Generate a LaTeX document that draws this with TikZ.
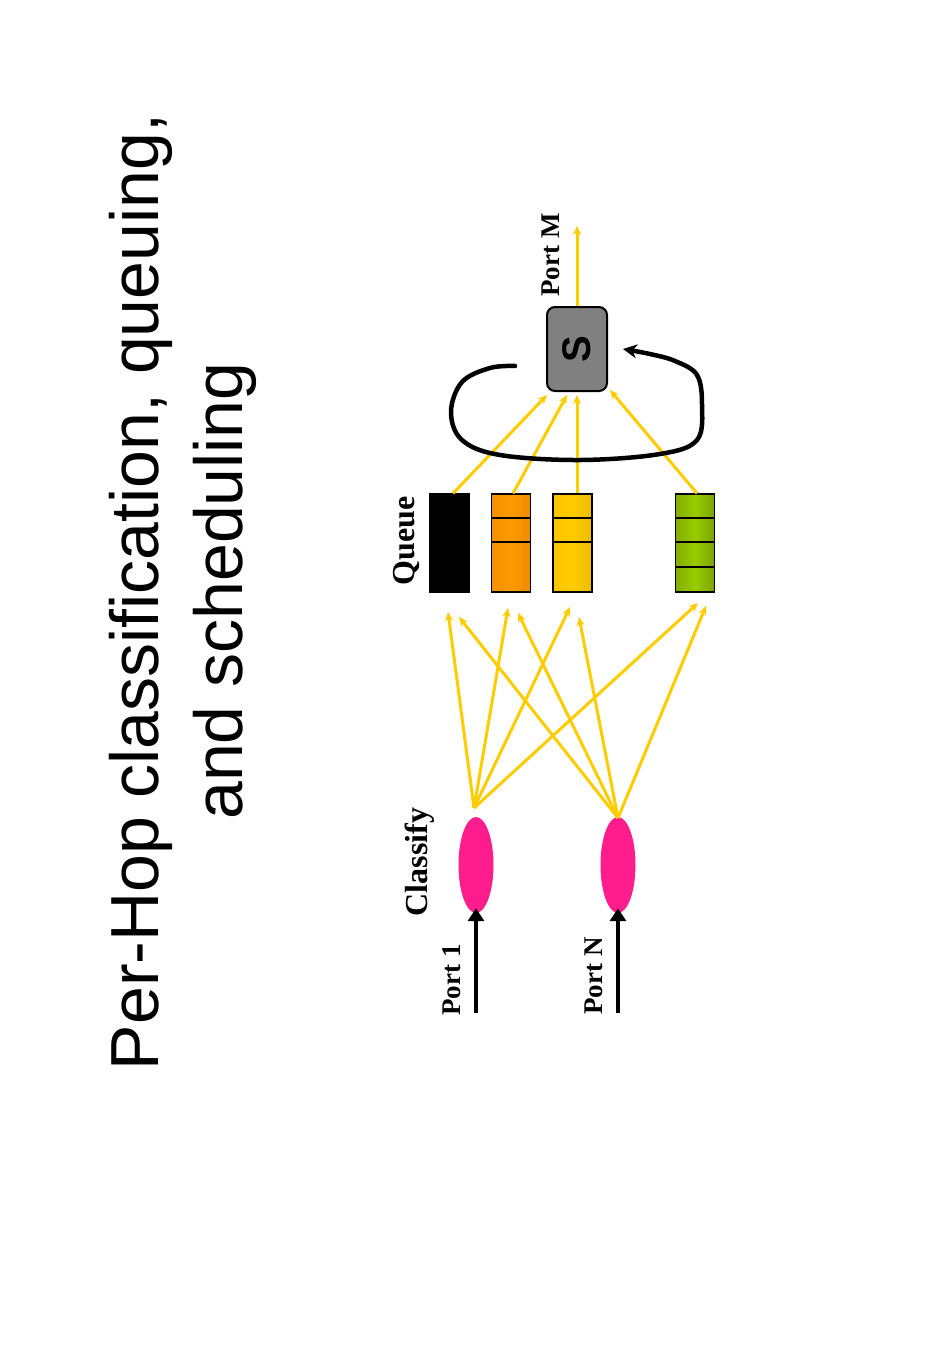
\documentclass[tikz,border=0pt]{standalone}
\usepackage{fontspec}
\setmainfont{Liberation Serif}
\newfontfamily\titlefont{Liberation Sans}
\usetikzlibrary{arrows.meta,shapes.geometric}
\definecolor{qyellow}{HTML}{FFCC00}
\definecolor{qorange}{HTML}{FF9900}
\definecolor{qgreen}{HTML}{99CC00}
\definecolor{pinkc}{HTML}{FF1C8C}
\definecolor{sgray}{HTML}{808080}
\tikzset{
  titletext/.style={rotate=90,anchor=base,font=\titlefont\fontsize{68}{80}\selectfont},
  lbl/.style={rotate=90,anchor=base,font=\bfseries\fontsize{27}{30}\selectfont},
  biglbl/.style={rotate=90,anchor=base,font=\bfseries\fontsize{32}{36}\selectfont},
  queuebox/.style={draw=black,line width=1.2pt,minimum width=39pt,minimum height=98pt,inner sep=0pt},
  classnode/.style={ellipse,fill=pinkc,minimum width=35pt,minimum height=96pt,inner sep=0pt},
  flow/.style={draw=qyellow,line width=3pt,-{Stealth[length=9pt,width=8pt]}},
  inarrow/.style={draw=black,line width=4.5pt,-{Triangle[length=13pt,width=16pt]}},
}
\begin{document}
\begin{tikzpicture}[x=1pt,y=-1pt]
\useasboundingbox (0,0) rectangle (952,1347);
\fill[white] (0,0) rectangle (952,1347);

% title
\node[titletext] (t1) at (158,592) {Per-Hop classification, queuing,};
\node[titletext] (t2) at (242,591) {and scheduling};

% labels
\node[lbl] (lpm) at (559,255) {Port M};
\node[biglbl] (lq) at (414,541) {Queue};
\node[biglbl] (lc) at (427,862) {Classify};
\node[lbl] (lp1) at (460,980) {Port 1};
\node[lbl] (lpn) at (602,976) {Port N};

% scheduler
\node[draw=black,line width=2pt,fill=sgray,rounded corners=8pt,minimum width=60pt,minimum height=84pt,inner sep=0pt] (S) at (577,349) {};
\node[rotate=90,font=\titlefont\bfseries\fontsize{40}{44}\selectfont] (Slbl) at (S.center) {S};

% queues
\node[queuebox,fill=black] (q1) at (449.5,543) {};
\node[queuebox,left color=qorange!95!black,right color=qorange!92!black,middle color=qorange] (q2) at (511,543) {};
\node[queuebox,left color=qyellow!90!orange,right color=qyellow!92!black,middle color=qyellow] (q3) at (572.5,543) {};
\node[queuebox,left color=qgreen!85!black,right color=qgreen!80!black,middle color=qgreen] (q4) at (695,543) {};
\draw[line width=1.2pt] (q2.west |- 0,518) -- (q2.east |- 0,518) (q2.west |- 0,542) -- (q2.east |- 0,542);
\draw[line width=1.2pt] (q3.west |- 0,518) -- (q3.east |- 0,518) (q3.west |- 0,542) -- (q3.east |- 0,542);
\draw[line width=1.2pt] (q4.west |- 0,518) -- (q4.east |- 0,518) (q4.west |- 0,542) -- (q4.east |- 0,542) (q4.west |- 0,567) -- (q4.east |- 0,567);

% classifiers
\node[classnode] (c1) at (476,865) {};
\node[classnode] (c2) at (618,865) {};

% input ports
\coordinate (p1) at (476,1013);
\coordinate (pn) at (618,1013);
\draw[inarrow] (p1) -- ([yshift=5pt]c1.south);
\draw[inarrow] (pn) -- ([yshift=5pt]c2.south);

% classifier to queue flows
\coordinate (c1o) at (474,808);
\coordinate (c2o) at (618,818);
\coordinate (q1a) at (448,612);
\coordinate (q2a) at (508,608);
\coordinate (q3a) at (570,607);
\coordinate (q4a) at (698,603);
\coordinate (q1b) at (459,617);
\coordinate (q2b) at (518,613);
\coordinate (q3b) at (579,617);
\coordinate (q4b) at (706,606);
\foreach \t in {q1a,q2a,q3a,q4a} \draw[flow] (c1o) -- (\t);
\foreach \t in {q1b,q2b,q3b,q4b} \draw[flow] (c2o) -- (\t);

% queue to scheduler flows
\coordinate (s1) at (547,395);
\coordinate (s2) at (567,395);
\coordinate (s3) at (577,395);
\coordinate (s4) at (610,390);
\draw[flow] ([xshift=3.5pt]q1.north) -- (s1);
\draw[flow] ([xshift=2pt]q2.north) -- (s2);
\draw[flow] ([xshift=4.5pt]q3.north) -- (s3);
\draw[flow] ([xshift=2pt]q4.north) -- (s4);

% output port
\coordinate (pm) at (577,226);
\draw[flow] (S.north) -- (pm);

% scheduling loop
\coordinate (lstart) at (515,366);
\coordinate (lend) at (623,349);
\draw[line width=4.5pt,line cap=round,-{Stealth[length=14pt,width=14pt]}] plot[smooth,tension=0.6] coordinates {(lstart) (490,368) (462,382) (451,412) (462,440) (500,455) (580,460) (660,454) (697,440) (702,405) (697,375) (675,361) (650,354) (lend)};

\end{tikzpicture}
\end{document}
